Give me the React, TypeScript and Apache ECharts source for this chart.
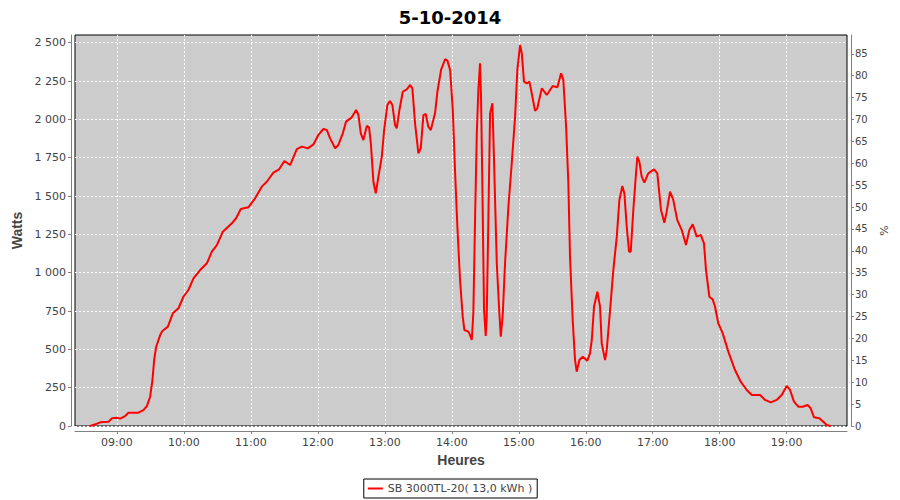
import React, { useEffect, useRef } from "react";
import * as echarts from "echarts";

const title = "5-10-2014";
const seriesName = "SB 3000TL-20( 13,0 kWh )";

// time in minutes since midnight
const timesMin = [
  516.1, 520.6, 525.0, 532.5, 535.5, 540.0, 543.0, 547.4, 550.4, 559.3, 563.8, 566.9, 569.8, 571.9, 573.4, 575.2,
  578.8, 580.8, 585.7, 590.1, 595.2, 599.6, 604.1, 608.6, 614.6, 620.6, 625.1, 629.6, 634.9, 643.0, 646.8, 651.0,
  657.8, 663.8, 669.8, 674.3, 680.2, 685.3, 690.1, 695.2, 701.2, 705.7, 711.0, 716.1, 720.5, 725.0, 728.1, 731.0,
  735.5, 738.4, 742.4, 745.3, 750.4, 754.3, 756.4, 758.5, 760.8, 763.9, 765.9, 767.5, 769.8, 771.9, 774.3, 777.3,
  779.4, 782.3, 784.7, 786.8, 789.2, 790.7, 793.1, 796.1, 799.7, 802.7, 804.7, 807.1, 810.1, 812.2, 814.6, 816.7,
  819.0, 821.2, 825.0, 827.1, 830.4, 834.0, 836.1, 838.5, 840.9, 843.0, 845.0, 847.4, 849.8, 851.3, 854.9, 856.4,
  857.9, 859.3, 860.9, 862.4, 863.8, 865.3, 866.2, 867.4, 868.9, 870.4, 871.3, 872.8, 874.3, 876.4, 877.9, 880.3,
  882.6, 883.9, 885.7, 887.7, 890.7, 893.7, 896.7, 898.7, 901.2, 902.7, 904.7, 907.2, 909.5, 911.6, 914.6, 916.6,
  920.6, 925.1, 930.4, 934.6, 937.9, 939.9, 942.4, 944.4, 945.9, 948.3, 950.4, 951.9, 954.3, 957.3, 961.4, 963.8,
  965.4, 967.4, 970.4, 972.8, 974.3, 977.3, 978.8, 981.8, 984.7, 987.8, 990.1, 992.8, 994.6, 996.7, 998.8, 1000.3,
  1002.6, 1004.8, 1006.2, 1008.0, 1010.1, 1012.5, 1016.0, 1021.2, 1024.1, 1027.4, 1030.4, 1032.5, 1035.5, 1038.4,
  1042.0, 1046.0, 1049.8, 1052.8, 1055.8, 1059.4, 1063.0, 1065.9, 1067.7, 1070.7, 1073.7, 1075.8, 1078.7, 1082.7,
  1087.7, 1093.7, 1098.8, 1104.2, 1108.7, 1116.1, 1120.6, 1125.7, 1131.0, 1135.5, 1140.0, 1143.0, 1146.5, 1150.4,
  1154.3, 1158.8, 1161.5, 1164.4, 1169.2, 1172.8, 1175.8, 1179.4,
];

const watts = [
  0, 11, 24, 28, 50, 54, 48, 65, 87, 87, 104, 130, 191, 300, 430, 517,
  593, 620, 648, 735, 768, 843, 887, 963, 1017, 1061, 1137, 1180, 1267, 1322, 1355, 1415,
  1426, 1485, 1561, 1593, 1652, 1674, 1728, 1702, 1805, 1822, 1811, 1837, 1898, 1937, 1930, 1876,
  1811, 1833, 1909, 1985, 2013, 2061, 2028, 1909, 1865, 1957, 1948, 1844, 1593, 1517, 1626, 1756,
  1930, 2094, 2120, 2094, 1963, 1941, 2061, 2180, 2196, 2224, 2202, 1974, 1778, 1811, 2028, 2035,
  1952, 1930, 2039, 2180, 2322, 2392, 2383, 2322, 2061, 1648, 1300, 952, 713, 626, 615, 593,
  561, 735, 1365, 1909, 2191, 2365, 2148, 1561, 757, 587, 713, 1365, 2039, 2105, 1713, 1061,
  735, 582, 735, 1061, 1430, 1713, 2017, 2322, 2485, 2430, 2246, 2235, 2246, 2170, 2055, 2072,
  2202, 2159, 2217, 2209, 2300, 2257, 1952, 1583, 1104, 691, 430, 354, 430, 452, 426, 474,
  561, 778, 876, 778, 539, 430, 496, 757, 1017, 1235, 1474, 1565, 1517, 1300, 1137, 1137,
  1409, 1626, 1756, 1724, 1626, 1587, 1648, 1674, 1648, 1409, 1326, 1398, 1528, 1474,
  1343, 1278, 1180, 1278, 1315, 1235, 1246, 1191, 1017, 843, 826, 778, 670, 604,
  485, 365, 289, 235, 202, 202, 170, 154, 170, 202, 261, 235, 159, 126,
  126, 137, 115, 57, 50, 28, 7, 0,
];

const hourTicks = [540, 600, 660, 720, 780, 840, 900, 960, 1020, 1080, 1140];
const wattTicks = [0, 250, 500, 750, 1000, 1250, 1500, 1750, 2000, 2250, 2500];
const pctTicks = [0, 5, 10, 15, 20, 25, 30, 35, 40, 45, 50, 55, 60, 65, 70, 75, 80, 85];

const fmtHour = (v: number) => {
  const h = Math.floor(v / 60);
  const m = Math.round(v - h * 60);
  return String(h).padStart(2, "0") + ":" + String(m).padStart(2, "0");
};
const fmtWatt = (v: number) =>
  v >= 1000 ? Math.floor(v / 1000) + " " + String(v % 1000).padStart(3, "0") : String(v);

const axisGray = "#808080";
const labelColor = "#444444";
const font = "DejaVu Sans";

export default function App() {
  const ref = useRef<HTMLDivElement>(null);
  useEffect(() => {
    if (!ref.current) return;
    const chart = echarts.init(ref.current, null, { renderer: "svg" });
    const data = timesMin.map((t, i) => [t, watts[i]]);
    chart.setOption({
      animation: false,
      backgroundColor: "#ffffff",
      title: {
        text: title,
        left: "center",
        top: 3,
        textStyle: { fontFamily: font, fontWeight: "bold", fontSize: 18, color: "#000" },
      },
      legend: {
        bottom: 2,
        left: "center",
        data: [seriesName],
        icon: "rect",
        itemWidth: 15,
        itemHeight: 2,
        itemGap: 4,
        padding: [4, 5, 4, 4],
        borderColor: "#000",
        borderWidth: 1,
        borderRadius: 0,
        textStyle: { fontFamily: font, fontSize: 11, color: labelColor },
      },
      grid: {
        left: 75,
        right: 53,
        top: 35,
        bottom: 74,
        show: true,
        backgroundColor: "#cccccc",
        borderColor: "#000000",
        borderWidth: 1,
      },
      xAxis: {
        type: "value",
        min: 502.5,
        max: 1194,
        offset: 5,
        name: "Heures",
        nameLocation: "middle",
        nameGap: 22,
        nameTextStyle: { fontFamily: "Liberation Sans", fontWeight: "bold", fontSize: 14, color: labelColor },
        axisLine: { onZero: false, lineStyle: { color: axisGray } },
        axisTick: { customValues: hourTicks, length: 3, lineStyle: { color: axisGray } },
        axisLabel: {
          customValues: hourTicks,
          formatter: (v: number) => fmtHour(v),
          fontFamily: font,
          fontSize: 11,
          color: labelColor,
          margin: 6,
        },
        splitLine: { show: true, lineStyle: { color: "#ffffff", type: [2, 2], width: 1 } },
      },
      yAxis: [
        {
          type: "value",
          min: 0,
          max: 2550,
          offset: 4,
          position: "left",
          name: "Watts",
          nameLocation: "middle",
          nameGap: 40,
          nameTextStyle: { fontFamily: "Liberation Sans", fontWeight: "bold", fontSize: 14, color: labelColor },
          axisLine: { show: true, lineStyle: { color: axisGray } },
          axisTick: { show: true, customValues: wattTicks, length: 3, lineStyle: { color: axisGray } },
          axisLabel: {
            customValues: wattTicks,
            formatter: (v: number) => fmtWatt(v),
            fontFamily: font,
            fontSize: 11,
            color: labelColor,
            margin: 5,
          },
          splitLine: { show: true, lineStyle: { color: "#ffffff", type: [2, 2], width: 1 } },
        },
        {
          type: "value",
          min: 0,
          max: 89.3,
          offset: 4,
          position: "right",
          name: "%",
          nameLocation: "middle",
          nameGap: 26,
          nameTextStyle: { fontFamily: font, fontSize: 11, color: labelColor },
          axisLine: { show: true, lineStyle: { color: axisGray } },
          axisTick: { show: true, customValues: pctTicks, length: 3, lineStyle: { color: axisGray } },
          axisLabel: {
            customValues: pctTicks,
            fontFamily: font,
            fontSize: 10,
            color: labelColor,
            margin: 4,
          },
          splitLine: { show: false },
        },
      ],
      series: [
        {
          name: seriesName,
          type: "line",
          yAxisIndex: 0,
          showSymbol: false,
          symbol: "none",
          data,
          lineStyle: { color: "#ff0000", width: 2 },
          itemStyle: { color: "#ff0000" },
        },
      ],
    });
    return () => chart.dispose();
  }, []);
  return <div ref={ref} style={{ width: 900, height: 500, position: "absolute", left: 0, top: 0 }} />;
}
